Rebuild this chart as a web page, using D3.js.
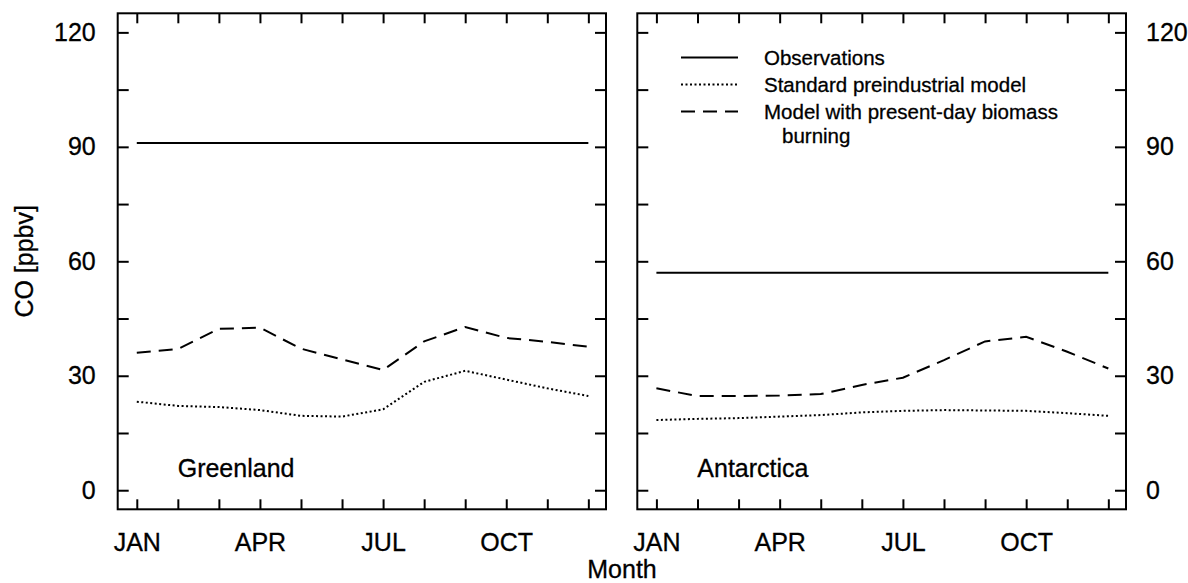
<!DOCTYPE html>
<html>
<head>
<meta charset="utf-8">
<script src="https://cdn.jsdelivr.net/npm/d3@7"></script>
<style>
  body { margin: 0; background: #fff; }
  svg { display: block; font-family: "Liberation Sans", Arial, Helvetica, sans-serif; }
  .axis path { display: none; }
  .axis line { stroke: #000; stroke-width: 2; }
  .axis text { font-size: 25px; fill: #000; stroke: #000; stroke-width: 0.3; }
  .label { stroke: #000; stroke-width: 0.3; }
</style>
</head>
<body>
<div id="chart"></div>
<script>
const months = [1, 2, 3, 4, 5, 6, 7, 8, 9, 10, 11, 12];
const monthLabels = {1: "JAN", 4: "APR", 7: "JUL", 10: "OCT"};
const yTicks = [0, 15, 30, 45, 60, 75, 90, 105, 120];

// Greenland
const greenlandObs = [91, 91, 91, 91, 91, 91, 91, 91, 91, 91, 91, 91];
const greenlandStd = [23.2, 22.1, 21.8, 21.0, 19.5, 19.3, 21.2, 28.4, 31.3, 29.0, 26.7, 24.7];
const greenlandBio = [36.0, 37.0, 42.3, 42.6, 37.1, 34.3, 31.5, 39.0, 42.8, 39.9, 38.9, 37.6];

// Antarctica
const antarcticaObs = [57, 57, 57, 57, 57, 57, 57, 57, 57, 57, 57, 57];
const antarcticaStd = [18.4, 18.7, 18.9, 19.3, 19.7, 20.4, 20.8, 21.0, 20.9, 20.8, 20.2, 19.5];
const antarcticaBio = [26.7, 24.7, 24.7, 24.8, 25.2, 27.6, 29.5, 34.1, 39.0, 40.2, 36.3, 31.9];

const legendItems = [
    {dash: null, lines: ["Observations"]},
    {dash: "2,2.5", lines: ["Standard preindustrial model"]},
    {dash: "14,8", lines: ["Model with present-day biomass", "burning"]}
];

const width = 1188;
const height = 583;
const plotTop = 13.3, plotBottom = 509.3;

const svg = d3.select("#chart")
    .append("svg")
    .attr("width", width)
    .attr("height", height);

const yScale = d3.scaleLinear()
    .domain([-5, 125])
    .range([plotBottom, plotTop]);

function drawPanel(left, right, name, obs, std, bio, labelSide) {
    const xScale = d3.scaleLinear()
        .domain([0.535, 12.43])
        .range([left, right]);

    const g = svg.append("g");

    // ticks on all four sides, pointing inward
    g.append("g")
        .attr("class", "axis")
        .attr("transform", "translate(0," + plotBottom + ")")
        .call(d3.axisBottom(xScale).tickValues(months).tickSize(-10).tickPadding(24)
            .tickFormat(d => monthLabels[d] || ""));
    g.append("g")
        .attr("class", "axis")
        .attr("transform", "translate(0," + plotTop + ")")
        .call(d3.axisTop(xScale).tickValues(months).tickSize(-10).tickFormat(""));
    g.append("g")
        .attr("class", "axis")
        .attr("transform", "translate(" + left + ",0)")
        .call(d3.axisLeft(yScale).tickValues(yTicks).tickSize(-11).tickPadding(22)
            .tickFormat(d => (labelSide == "left" && d % 30 == 0) ? d : ""));
    g.append("g")
        .attr("class", "axis")
        .attr("transform", "translate(" + right + ",0)")
        .call(d3.axisRight(yScale).tickValues(yTicks).tickSize(-11).tickPadding(20)
            .tickFormat(d => (labelSide == "right" && d % 30 == 0) ? d : ""));

    g.append("rect")
        .attr("x", left)
        .attr("y", plotTop)
        .attr("width", right - left)
        .attr("height", plotBottom - plotTop)
        .attr("fill", "none")
        .attr("stroke", "#000")
        .attr("stroke-width", 2);

    const line = d3.line()
        .x((d, i) => xScale(months[i]))
        .y(d => yScale(d));

    [[obs, null], [std, "2,2.5"], [bio, "14,8"]].forEach(([vals, dash]) => {
        g.append("path")
            .datum(vals)
            .attr("d", line)
            .attr("fill", "none")
            .attr("stroke", "#000")
            .attr("stroke-width", 2)
            .attr("stroke-dasharray", dash);
    });

    g.append("text")
        .attr("class", "label")
        .attr("x", left + 60)
        .attr("y", 477)
        .attr("font-size", 25)
        .text(name);

    return xScale;
}

drawPanel(117.7, 606, "Greenland", greenlandObs, greenlandStd, greenlandBio, "left");
drawPanel(637.3, 1126, "Antarctica", antarcticaObs, antarcticaStd, antarcticaBio, "right");

// legend in the right panel
const legend = svg.append("g").attr("transform", "translate(681,57.5)");
let rowY = 0;
legendItems.forEach(item => {
    legend.append("line")
        .attr("x1", 0)
        .attr("x2", 57)
        .attr("y1", rowY)
        .attr("y2", rowY)
        .attr("stroke", "#000")
        .attr("stroke-width", 2)
        .attr("stroke-dasharray", item.dash);
    item.lines.forEach((t, j) => {
        legend.append("text")
            .attr("class", "label")
            .attr("x", 83 + (j > 0 ? 18 : 0))
            .attr("y", rowY + 7 + j * 24.5)
            .attr("font-size", 20.5)
            .text(t);
    });
    rowY += 27;
});

svg.append("text")
    .attr("class", "label")
    .attr("x", 622)
    .attr("y", 578)
    .attr("text-anchor", "middle")
    .attr("font-size", 25)
    .text("Month");

svg.append("text")
    .attr("class", "label")
    .attr("transform", "translate(33," + (plotTop + plotBottom) / 2 + ") rotate(-90)")
    .attr("text-anchor", "middle")
    .attr("font-size", 25)
    .text("CO [ppbv]");
</script>
</body>
</html>
